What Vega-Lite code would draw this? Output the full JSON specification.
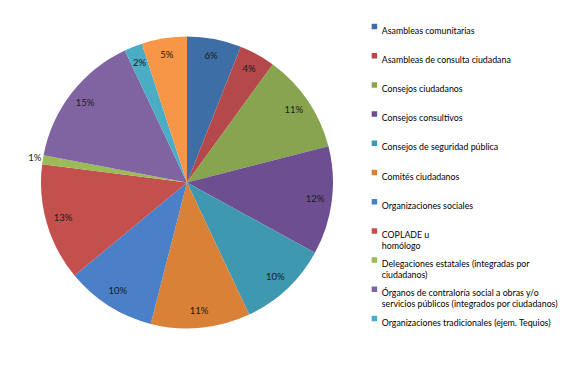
{
  "$schema": "https://vega.github.io/schema/vega-lite/v6.json",
  "width": 374,
  "height": 365,
  "padding": 0,
  "autosize": {"type": "pad"},
  "background": "white",
  "config": {"view": {"stroke": null}},
  "data": {"values": [
    {"cat": "Asambleas comunitarias", "value": 0.06, "ord": 1},
    {"cat": "Asambleas de consulta ciudadana", "value": 0.04, "ord": 2},
    {"cat": "Consejos ciudadanos", "value": 0.11, "ord": 3},
    {"cat": "Consejos consultivos", "value": 0.12, "ord": 4},
    {"cat": "Consejos de seguridad pública", "value": 0.10, "ord": 5},
    {"cat": "Comités ciudadanos", "value": 0.11, "ord": 6},
    {"cat": "Organizaciones sociales", "value": 0.10, "ord": 7},
    {"cat": "COPLADE u|homólogo", "value": 0.13, "ord": 8},
    {"cat": "Delegaciones estatales (integradas por|ciudadanos)", "value": 0.01, "ord": 9},
    {"cat": "Órganos de contraloría social a obras y/o|servicios públicos (integrados por ciudadanos)", "value": 0.15, "ord": 10},
    {"cat": "Organizaciones tradicionales (ejem. Tequios)", "value": 0.02, "ord": 11},
    {"cat": "Otros", "value": 0.05, "ord": 12}
  ]},
  "encoding": {
    "theta": {"field": "value", "type": "quantitative", "stack": true},
    "order": {"field": "ord", "type": "quantitative"}
  },
  "layer": [
    {
      "mark": {"type": "arc", "outerRadius": 146},
      "encoding": {
        "color": {
          "field": "cat",
          "type": "nominal",
          "scale": {
            "domain": ["Asambleas comunitarias", "Asambleas de consulta ciudadana", "Consejos ciudadanos", "Consejos consultivos", "Consejos de seguridad pública", "Comités ciudadanos", "Organizaciones sociales", "COPLADE u|homólogo", "Delegaciones estatales (integradas por|ciudadanos)", "Órganos de contraloría social a obras y/o|servicios públicos (integrados por ciudadanos)", "Organizaciones tradicionales (ejem. Tequios)", "Otros"],
            "range": ["#3E6EA6", "#B5484A", "#86A54E", "#6C4E91", "#3E98B0", "#DA8138", "#4A80C8", "#C4504D", "#9BBB59", "#8064A2", "#4BACC6", "#F79646"]
          },
          "legend": {
            "title": null,
            "orient": "none",
            "legendX": 370,
            "legendY": 20,
            "values": ["Asambleas comunitarias", "Asambleas de consulta ciudadana", "Consejos ciudadanos", "Consejos consultivos", "Consejos de seguridad pública", "Comités ciudadanos", "Organizaciones sociales", "COPLADE u|homólogo", "Delegaciones estatales (integradas por|ciudadanos)", "Órganos de contraloría social a obras y/o|servicios públicos (integrados por ciudadanos)", "Organizaciones tradicionales (ejem. Tequios)"],
            "labelExpr": "split(datum.label, '|')",
            "symbolType": "square",
            "symbolSize": 30,
            "symbolStrokeWidth": 0,
            "labelFont": "Lato",
            "labelFontSize": 8.8,
            "labelColor": "#000000",
            "labelLimit": 300,
            "labelOffset": 3,
            "labelBaseline": "top",
            "clipHeight": 13,
            "gridAlign": "all",
            "rowPadding": 2.2
          }
        }
      }
    },
    {
      "mark": {"type": "text", "radius": {"expr": "datum.value < 0.015 ? 154 : 129"}, "fontSize": 9.5, "font": "Lato", "color": "#1a1a1a"},
      "encoding": {
        "text": {"field": "value", "type": "quantitative", "format": ".0%"}
      }
    }
  ]
}
